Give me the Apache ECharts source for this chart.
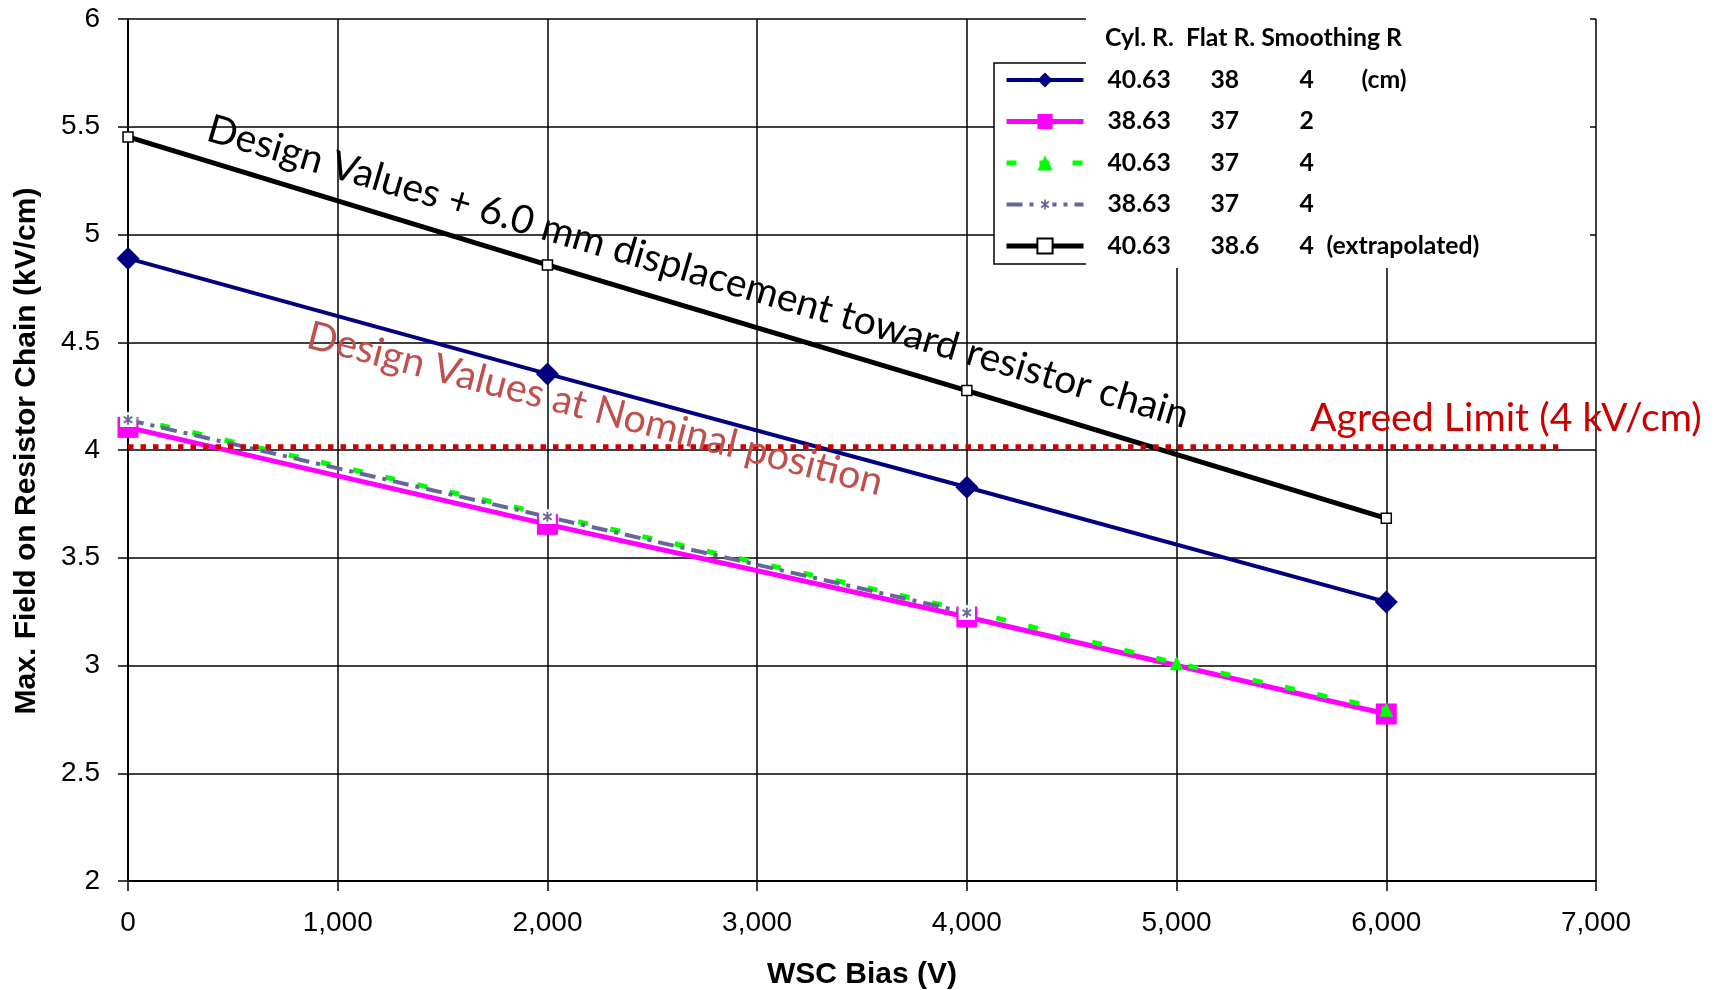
<!DOCTYPE html>
<html><head><meta charset="utf-8">
<script src="https://cdn.jsdelivr.net/npm/echarts@6/dist/echarts.min.js"></script>
<style>html,body{margin:0;padding:0;background:#fff}#c{width:1725px;height:990px}</style>
</head><body><div id="c"></div>
<script>
// ---------- data ----------
const biasNavy = [0, 2000, 4000, 6000];
const fieldNavy = [4.889, 4.353, 3.827, 3.295];
const biasMagenta = [0, 2000, 4000, 6000];
const fieldMagenta = [4.105, 3.655, 3.225, 2.775];
const biasGreen = [0, 2000, 4000, 5000, 6000];
const fieldGreen = [4.15, 3.70, 3.255, 3.01, 2.795];
const biasGray = [0, 2000, 4000];
const fieldGray = [4.14, 3.69, 3.245];
const biasBlack = [0, 2000, 4000, 6000];
const fieldBlack = [5.453, 4.859, 4.276, 3.683];
const limitBias = [0, 6820];
const limitField = [4.015, 4.015];

const cylR = ['40.63', '38.63', '40.63', '38.63', '40.63'];
const flatR = ['38', '37', '37', '37', '38.6'];
const smoothR = ['4', '2', '4', '4', '4'];
const notes = ['(cm)', '', '', '', '(extrapolated)'];
const legendHeader = 'Cyl. R.  Flat R. Smoothing R';

const xTitle = 'WSC Bias (V)';
const yTitle = 'Max. Field on Resistor Chain (kV/cm)';
const annoTop = 'Design Values + 6.0 mm displacement toward resistor chain';
const annoNominal = 'Design Values at Nominal position';
const annoLimit = 'Agreed Limit (4 kV/cm)';

// ---------- helpers ----------
const pair = (xs, ys) => xs.map((x, i) => [x, ys[i]]);
const mctx = document.createElement('canvas').getContext('2d');
function fit(text, family, weight, target) {
  mctx.font = weight + ' 100px ' + family;
  return 100 * target / mctx.measureText(text).width;
}
const names = cylR.map((c, i) => c + ' ' + flatR[i] + ' ' + smoothR[i] + ' ' + notes[i] + ' #' + i);

const starSvg = "<svg xmlns='http://www.w3.org/2000/svg' width='16' height='15'><rect width='16' height='15' fill='white'/><path d='M8 2.5 V12.5 M4 4.5 L12 10.5 M12 4.5 L4 10.5' stroke='#666699' stroke-width='1.8' fill='none'/></svg>";
const starSymbol = 'image://data:image/svg+xml;charset=utf-8,' + encodeURIComponent(starSvg);

const LEG_FONT = fit(legendHeader, 'Lato', 'bold', 297);
const legFont = {fontFamily: 'Lato', fontWeight: 'bold', fontSize: LEG_FONT, color: '#000', lineHeight: 26};

const chart = echarts.init(document.getElementById('c'), null, {renderer: 'canvas'});
const option = {
  animation: false,
  backgroundColor: '#fff',
  grid: {left: 128, top: 19, width: 1468, height: 862, containLabel: false},
  xAxis: {
    type: 'value', min: 0, max: 7000, interval: 1000,
    axisLine: {show: true, onZero: false, lineStyle: {color: '#000', width: 2}},
    axisTick: {show: true, inside: false, length: 10, lineStyle: {color: '#000', width: 1.5}},
    axisLabel: {margin: 28, color: '#000', fontFamily: 'Liberation Sans', fontSize: 28,
      formatter: v => v.toLocaleString('en-US')},
    splitLine: {show: true, lineStyle: {color: '#000', width: 1.5}}
  },
  yAxis: {
    type: 'value', min: 2, max: 6, interval: 0.5,
    axisLine: {show: true, onZero: false, lineStyle: {color: '#000', width: 2}},
    axisTick: {show: true, inside: false, length: 10, lineStyle: {color: '#000', width: 1.5}},
    axisLabel: {margin: 28, color: '#000', fontFamily: 'Liberation Sans', fontSize: 28},
    splitLine: {show: true, lineStyle: {color: '#000', width: 1.5}}
  },
  legend: {
    show: true, orient: 'vertical', left: 1004, top: 67, padding: 0,
    itemWidth: 77, itemHeight: 19, itemGap: 15.5, z: 20, selectedMode: false,
    lineStyle: {width: 'inherit'},
    data: names,
    textStyle: Object.assign({}, legFont, {
      rich: {
        s: Object.assign({}, legFont, {width: 19}),
        a: Object.assign({}, legFont, {width: 103}),
        b: Object.assign({}, legFont, {width: 89}),
        c: Object.assign({}, legFont, {width: 62}),
        c2: Object.assign({}, legFont, {width: 27}),
        d: Object.assign({}, legFont)
      }
    }),
    formatter: function (name) {
      const i = names.indexOf(name);
      const cs = notes[i] === '(extrapolated)' ? 'c2' : 'c';
      let s = '{s| }{a|' + cylR[i] + '}{b|' + flatR[i] + '}{' + cs + '|' + smoothR[i] + '}';
      if (notes[i]) s += '{d|' + notes[i] + '}';
      return s;
    }
  },
  series: [
    {name: names[0], type: 'line', data: pair(biasNavy, fieldNavy), z: 3,
      lineStyle: {color: '#000080', width: 4}, itemStyle: {color: '#000080'},
      symbol: 'diamond', symbolSize: [23, 23]},
    {name: names[1], type: 'line', data: pair(biasMagenta, fieldMagenta), z: 4,
      lineStyle: {color: '#FF00FF', width: 5}, itemStyle: {color: '#FF00FF'},
      symbol: 'rect', symbolSize: 21},
    {name: names[2], type: 'line', data: pair(biasGreen, fieldGreen), z: 5,
      lineStyle: {color: '#00FF00', width: 5, type: [10, 23]}, itemStyle: {color: '#00FF00'},
      symbol: 'triangle', symbolSize: 14},
    {name: names[3], type: 'line', data: pair(biasGray, fieldGray), z: 6,
      lineStyle: {color: '#666699', width: 4, type: [16, 7, 4, 7]}, itemStyle: {color: '#666699'},
      symbol: starSymbol, symbolSize: [17, 15]},
    {name: names[4], type: 'line', data: pair(biasBlack, fieldBlack), z: 7,
      lineStyle: {color: '#000', width: 5}, itemStyle: {color: '#fff', borderColor: '#000', borderWidth: 1.5},
      symbol: 'rect', symbolSize: 10},
    {name: 'limit', type: 'line', data: pair(limitBias, limitField), z: 8,
      lineStyle: {color: '#CC0000', width: 5, type: [5.5, 7]}, symbol: 'none'}
  ],
  graphic: [
    {type: 'rect', z: 15, shape: {x: 994, y: 63, width: 100, height: 201},
      style: {fill: '#fff', stroke: '#000', lineWidth: 1.5}},
    {type: 'rect', z: 16, shape: {x: 1086, y: 17, width: 504, height: 251},
      style: {fill: '#fff'}},
    {type: 'text', z: 21, x: 1105, y: 38,
      style: {text: legendHeader, fontFamily: 'Lato', fontWeight: 'bold', fontSize: LEG_FONT, fill: '#000',
        align: 'left', verticalAlign: 'middle'}},
    {type: 'text', z: 12, x: 698, y: 272, rotation: -16.4 * Math.PI / 180,
      style: {text: annoTop, fontFamily: 'Lato', fontSize: fit(annoTop, 'Lato', 'normal', 1021), fill: '#000',
        align: 'center', verticalAlign: 'middle'}},
    {type: 'text', z: 12, x: 595, y: 409, rotation: -14.5 * Math.PI / 180,
      style: {text: annoNominal, fontFamily: 'Lato', fontSize: fit(annoNominal, 'Lato', 'normal', 593), fill: '#C0504D',
        align: 'center', verticalAlign: 'middle'}},
    {type: 'text', z: 12, x: 1310, y: 418,
      style: {text: annoLimit, fontFamily: 'Lato', fontSize: fit(annoLimit, 'Lato', 'normal', 392), fill: '#CC0000',
        align: 'left', verticalAlign: 'middle'}},
    {type: 'text', z: 12, x: 862, y: 975,
      style: {text: xTitle, fontFamily: 'Liberation Sans', fontWeight: 'bold', fontSize: 30, fill: '#000',
        align: 'center', verticalAlign: 'middle'}},
    {type: 'text', z: 12, x: 27, y: 451, rotation: Math.PI / 2,
      style: {text: yTitle, fontFamily: 'Liberation Sans', fontWeight: 'bold', fontSize: 30, fill: '#000',
        align: 'center', verticalAlign: 'middle'}}
  ]
};
chart.setOption(option);
</script>
</body></html>
